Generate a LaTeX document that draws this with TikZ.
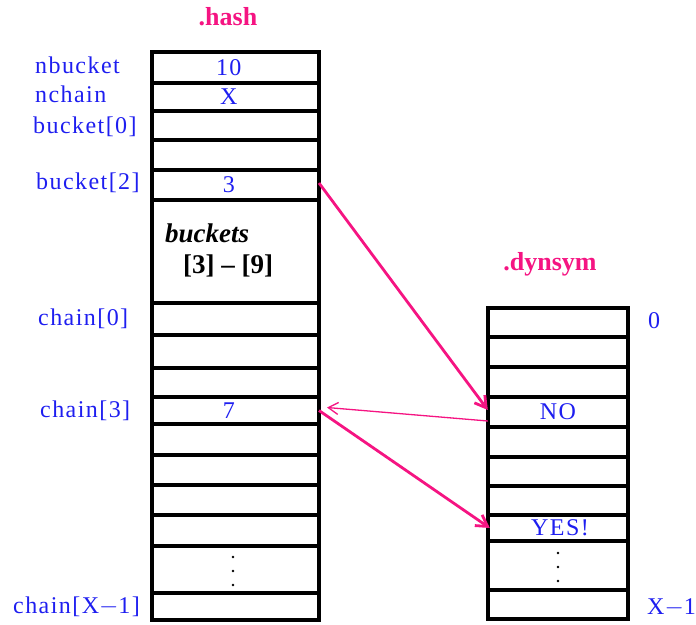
\documentclass[tikz,border=0pt]{standalone}
\usepackage{fontspec}
\setmainfont{Liberation Serif}
\newfontfamily\lblfont[LetterSpace=6]{Liberation Serif}
\usetikzlibrary{arrows.meta}
\definecolor{hashpink}{RGB}{245,20,130}
\definecolor{labelblue}{RGB}{30,30,240}

\begin{document}
\begin{tikzpicture}[x=1pt, y=-1pt,
  lbl/.style={text=labelblue, font=\lblfont\fontsize{24}{24}\selectfont, inner sep=0pt},
  title/.style={text=hashpink, font=\fontsize{26}{26}\selectfont\bfseries, inner sep=0pt},
  grid/.style={line width=3.2pt},
  ptr/.style={hashpink, line width=2.8pt, -{Straight Barb[length=11pt, width=13pt]}},
  backptr/.style={hashpink, line width=1.3pt, -{Straight Barb[length=10pt, width=12pt]}},
  hcell/.style={lbl, minimum width=180pt, minimum height=28pt, anchor=east},
  dcell/.style={lbl, minimum width=140pt, minimum height=28pt}]

  \useasboundingbox (0,0) rectangle (696,624);

  % Titles
  \node[title, anchor=base] (hashtitle) at (228,25) {.hash};
  \node[title, anchor=base] (symtitle) at (550,270) {.dynsym};

  % .hash table
  \foreach \y in {83,111,140,170,200,303,335,368,397,424,455,485,515,546,593}
    \draw[grid] (152,\y) -- (319,\y);
  \draw[grid] (152,52) rectangle (319,620);

  % .dynsym table
  \foreach \y in {337,367,397,427,457,486,515,541,590}
    \draw[grid] (488,\y) -- (628,\y);
  \draw[grid] (488,308) rectangle (628,619);

  % Cell values
  \node[hcell] (nbucketval) at (319,67.5) {10};
  \node[hcell] (nchainval) at (319,97) {X};
  \node[hcell] (bkt2) at (319,185) {3};
  \node[hcell] (chain3) at (319,410.5) {7};
  \node[dcell] (symno) at (558,412) {NO};
  \node[dcell] (symyes) at (560,528) {YES!};

  % Bucket block
  \node[anchor=base west, inner sep=0pt, font=\fontsize{27}{27}\selectfont\bfseries\itshape] (bktname) at (165,242) {buckets};
  \node[anchor=base west, inner sep=0pt, font=\fontsize{27}{27}\selectfont\bfseries] (bktrange) at (183,273) {[3] – [9]};

  % Row labels
  \node[lbl, anchor=base west] (lnbucket) at (35,73) {nbucket};
  \node[lbl, anchor=base west] (lnchain) at (35,102) {nchain};
  \node[lbl, anchor=base west] (lbkt0) at (33,133) {bucket[0]};
  \node[lbl, anchor=base west] (lbkt2) at (36,189) {bucket[2]};
  \node[lbl, anchor=base west] (lchain0) at (38,325) {chain[0]};
  \node[lbl, anchor=base west] (lchain3) at (40,417) {chain[3]};
  \node[lbl, anchor=base west] (lchainx) at (13,613) {chain[X$-$1]};
  \node[lbl, anchor=base west] (lsym0) at (648,328) {0};
  \node[lbl, anchor=base west] (lsymx) at (647,614) {X$-$1};

  % Ellipses
  \foreach \y in {557,571,585}
    \fill (233,\y) circle (1.3pt);
  \foreach \y in {553,567,581}
    \fill (558,\y) circle (1.3pt);

  % Pointers
  \draw[ptr] ([yshift=2pt]bkt2.east) -- ([yshift=2pt]symno.west);
  \draw[backptr] ([yshift=-9pt]symno.west) -- ([xshift=8pt, yshift=3pt]chain3.east);
  \draw[ptr] (chain3.east) -- (symyes.west);

\end{tikzpicture}
\end{document}
